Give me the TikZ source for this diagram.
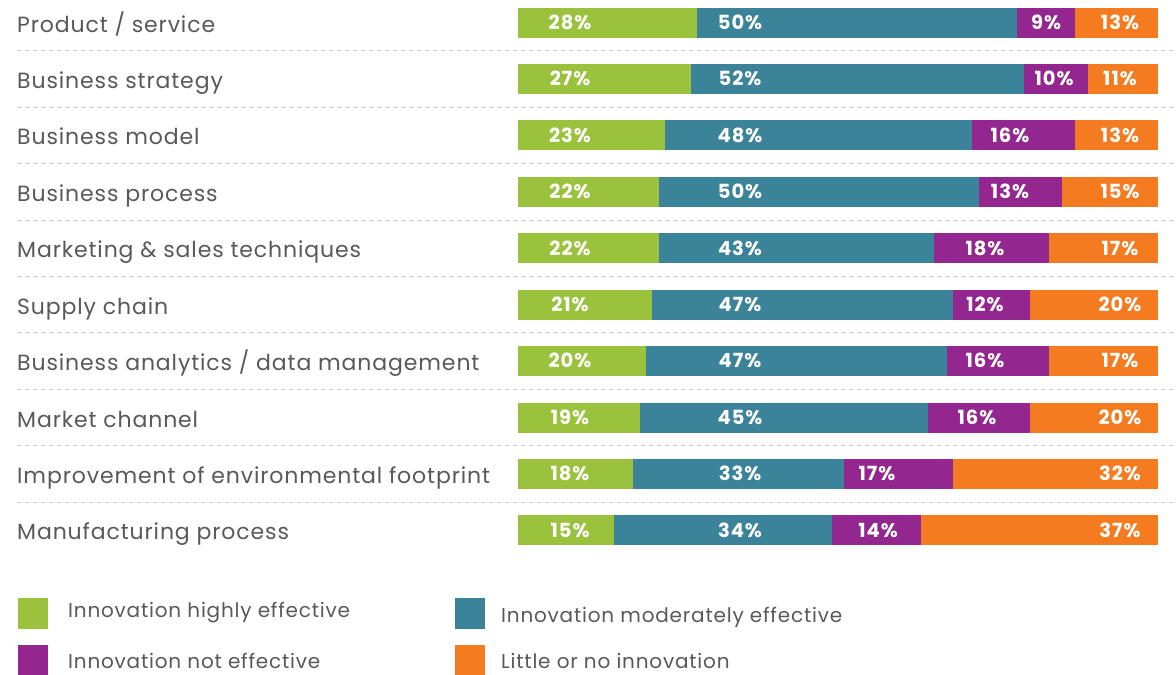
\documentclass[tikz,border=0pt]{standalone}
\usepackage{fontspec}
\setmainfont{Poppins}
\newfontfamily\labfont{Poppins}[LetterSpace=4]
\newfontfamily\pctfont{Poppins}[LetterSpace=5]
\definecolor{cgreen}{HTML}{9AC23C}
\definecolor{cteal}{HTML}{3B8399}
\definecolor{cpurple}{HTML}{93268F}
\definecolor{corange}{HTML}{F47B20}
\definecolor{ctext}{HTML}{58595B}
\definecolor{cdash}{HTML}{C8C8C8}
\tikzset{
  lab/.style={inner sep=0pt, text=ctext, font=\labfont\fontsize{22}{24}\selectfont, anchor=base west},
  pct/.style={inner sep=0pt, text=white, font=\pctfont\fontsize{19.5}{22}\selectfont\bfseries, anchor=base},
  leg/.style={inner sep=0pt, text=ctext, font=\labfont\fontsize{20}{22}\selectfont, anchor=west},
  sw/.style={inner sep=0pt, minimum width=30pt, minimum height=31pt, anchor=north west},
  dashline/.style={draw=cdash, line width=1pt, dash pattern=on 4pt off 4pt}
}
\newcommand\barrow[7]{%
  \pgfmathsetmacro\yc{22.5+(#1-1)*56.44}
  \pgfmathsetmacro\xa{518+6.4*#3}
  \pgfmathsetmacro\xb{\xa+6.4*#4}
  \pgfmathsetmacro\xc{\xb+6.4*#5}
  \fill[cgreen] (518,\yc-15) rectangle (\xa,\yc+15);
  \fill[cteal] (\xa,\yc-15) rectangle (\xb,\yc+15);
  \fill[cpurple] (\xb,\yc-15) rectangle (\xc,\yc+15);
  \fill[corange] (\xc,\yc-15) rectangle (1158,\yc+15);
  \node[lab] (l#1) at (17,\yc+9.5) {#2};
  \node[pct] (g#1) at (570,\yc+6.8) {#3\%};
  \node[pct] (t#1) at (740,\yc+6.8) {#4\%};
  \node[pct] (p#1) at (#7,\yc+6.8) {#5\%};
  \node[pct] (o#1) at (1120,\yc+6.8) {#6\%};
}
\begin{document}
\begin{tikzpicture}[x=1pt,y=-1pt]
\useasboundingbox[fill=white] (0,0) rectangle (1176,675);
\barrow{1}{Product / service}{28}{50}{9}{13}{1046}
\barrow{2}{Business strategy}{27}{52}{10}{11}{1054}
\barrow{3}{Business model}{23}{48}{16}{13}{1010}
\barrow{4}{Business process}{22}{50}{13}{15}{1010}
\barrow{5}{Marketing \& sales techniques}{22}{43}{18}{17}{985}
\barrow{6}{Supply chain}{21}{47}{12}{20}{985}
\barrow{7}{Business analytics / data management}{20}{47}{16}{17}{985}
\barrow{8}{Market channel}{19}{45}{16}{20}{977}
\barrow{9}{Improvement of environmental footprint}{18}{33}{17}{32}{877}
\barrow{10}{Manufacturing process}{15}{34}{14}{37}{878}
\foreach \i in {1,...,9}{
  \pgfmathsetmacro\yd{22.5+(\i-1)*56.44+28.2}
  \draw[dashline] (17,\yd) -- (1176,\yd);
}
% legend
\node[sw, fill=cgreen] (s1) at (18,598) {};
\node[sw, fill=cteal] (s2) at (455,598) {};
\node[sw, fill=cpurple] (s3) at (18,645) {};
\node[sw, fill=corange] (s4) at (455,645) {};
\node[leg] (t1) at (68,613) {Innovation highly effective};
\node[leg] (t2) at (501,617) {Innovation moderately effective};
\node[leg] (t3) at (68,661) {Innovation not effective};
\node[leg] (t4) at (501,661) {Little or no innovation};
\end{tikzpicture}
\end{document}
